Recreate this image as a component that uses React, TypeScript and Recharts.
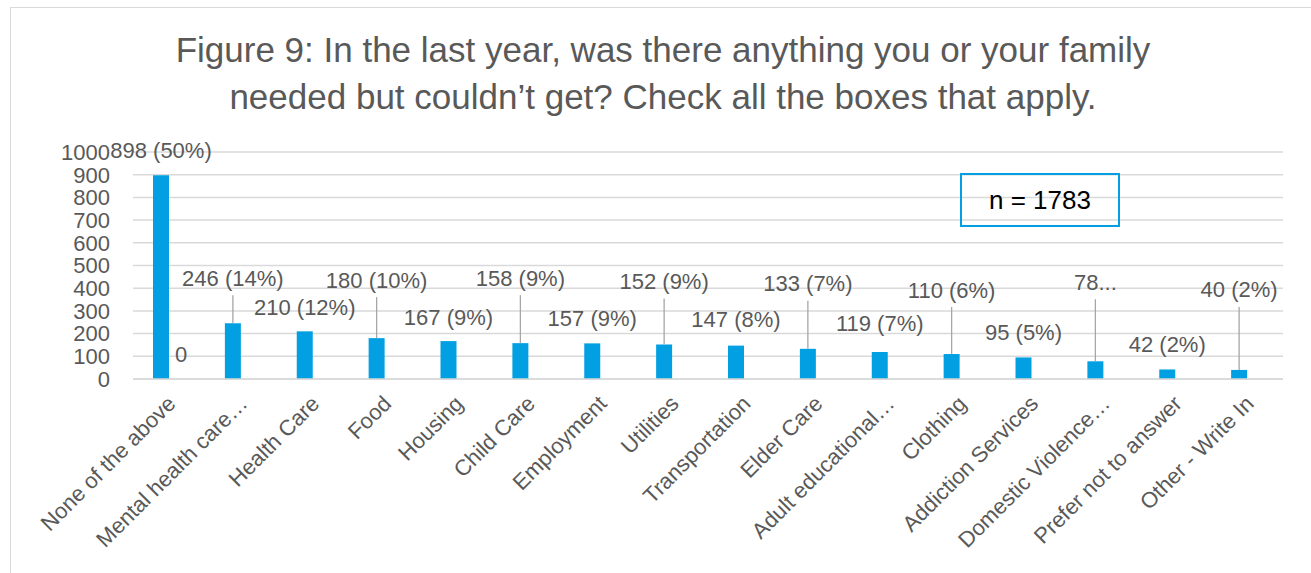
import { BarChart, Bar, XAxis, YAxis, CartesianGrid, LabelList } from 'recharts'

const categories = [
  'None of the above',
  'Mental health care…',
  'Health Care',
  'Food',
  'Housing',
  'Child Care',
  'Employment',
  'Utilities',
  'Transportation',
  'Elder Care',
  'Adult educational…',
  'Clothing',
  'Addiction Services',
  'Domestic Violence…',
  'Prefer not to answer',
  'Other - Write In',
]
const counts = [898, 246, 210, 180, 167, 158, 157, 152, 147, 133, 119, 110, 95, 78, 42, 40]
const labelTexts = [
  '898 (50%)', '246 (14%)', '210 (12%)', '180 (10%)', '167 (9%)', '158 (9%)', '157 (9%)', '152 (9%)',
  '147 (8%)', '133 (7%)', '119 (7%)', '110 (6%)', '95 (5%)', '78...', '42 (2%)', '40 (2%)',
]
// second (empty) series, only its first point is shown
const blankSeries = [0, null, null, null, null, null, null, null, null, null, null, null, null, null, null, null]
const yTicks = [0, 100, 200, 300, 400, 500, 600, 700, 800, 900, 1000]

// how far each label sits above its bar (px), and whether Excel drew a leader line
const labelLift = [25, 45, 24, 58, 24, 65, 25, 63, 26, 65, 28, 64, 25, 79, 25, 80]
const hasLeader = labelLift.map((_, i) => i % 2 === 1)

const data = categories.map((name, i) => ({ name, count: counts[i], blank: blankSeries[i] }))

const FONT = '"Liberation Sans", Arial, sans-serif'
const GREY = '#595959'
const BLUE = '#02a0e3'

function CountLabel(props: any) {
  const { x, y, width, height, index } = props
  const cx = x + width / 2
  const ly = y - labelLift[index]
  const blank = blankSeries[index]
  return (
    <g>
      {hasLeader[index] && <line x1={cx} x2={cx} y1={y} y2={ly + 17} stroke="#a6a6a6" strokeWidth={1.3} />}
      <text x={cx} y={ly} textAnchor="middle" dominantBaseline="central" fill={GREY} fontSize={22} fontFamily={FONT}>
        {labelTexts[index]}
      </text>
      {blank !== null && (
        <text x={x + width * 1.5 + 4} y={y + height - 25} textAnchor="middle" dominantBaseline="central" fill={GREY} fontSize={22} fontFamily={FONT}>
          {blank}
        </text>
      )}
    </g>
  )
}

function CategoryTick(props: any) {
  const { x, y, payload } = props
  return (
    <text
      transform={`translate(${x + 8},${y + 24}) rotate(-45)`}
      textAnchor="end"
      fill={GREY}
      fontSize={22}
      fontFamily={FONT}
    >
      {payload.value}
    </text>
  )
}

export default function App() {
  return (
    <div style={{ position: 'absolute', left: 0, top: 0, width: 1311, height: 573, overflow: 'hidden', background: '#fff', fontFamily: FONT }}>
      <div style={{ position: 'absolute', left: 10, top: 7, width: 1400, height: 700, border: '1px solid #d9d9d9' }} />
      <div
        style={{
          position: 'absolute', left: 0, top: 26, width: 1326, textAlign: 'center',
          color: GREY, fontSize: 35, lineHeight: '47px',
        }}
      >
        Figure 9: In the last year, was there anything you or your family
        <br />
        needed but couldn’t get? Check all the boxes that apply.
      </div>
      <div style={{ position: 'absolute', left: 0, top: 0 }}>
        <BarChart
          width={1311}
          height={573}
          data={data}
          margin={{ top: 152, right: 28, bottom: 0, left: 83 }}
          barGap={0}
          barSize={16}
        >
          <CartesianGrid vertical={false} stroke="#d9d9d9" strokeWidth={1.5} />
          <XAxis
            dataKey="name"
            interval={0}
            height={194}
            tickLine={false}
            tickSize={0}
            axisLine={{ stroke: '#d9d9d9', strokeWidth: 1.5 }}
            tick={<CategoryTick />}
          />
          <YAxis
            domain={[0, 1000]}
            ticks={yTicks}
            interval={0}
            width={50}
            axisLine={false}
            tickLine={false}
            tickSize={0}
            tickMargin={23}
            tick={{ fill: GREY, fontSize: 22, fontFamily: FONT }}
          />
          <Bar dataKey="count" fill={BLUE} isAnimationActive={false}>
            <LabelList dataKey="count" content={<CountLabel />} />
          </Bar>
          <Bar dataKey="blank" fill={BLUE} isAnimationActive={false} />
        </BarChart>
      </div>
      <div
        style={{
          position: 'absolute', left: 960, top: 173, width: 156, height: 50, border: `2px solid ${BLUE}`,
          display: 'flex', alignItems: 'center', justifyContent: 'center', fontSize: 26, color: '#000',
        }}
      >
        n = 1783
      </div>
    </div>
  )
}
